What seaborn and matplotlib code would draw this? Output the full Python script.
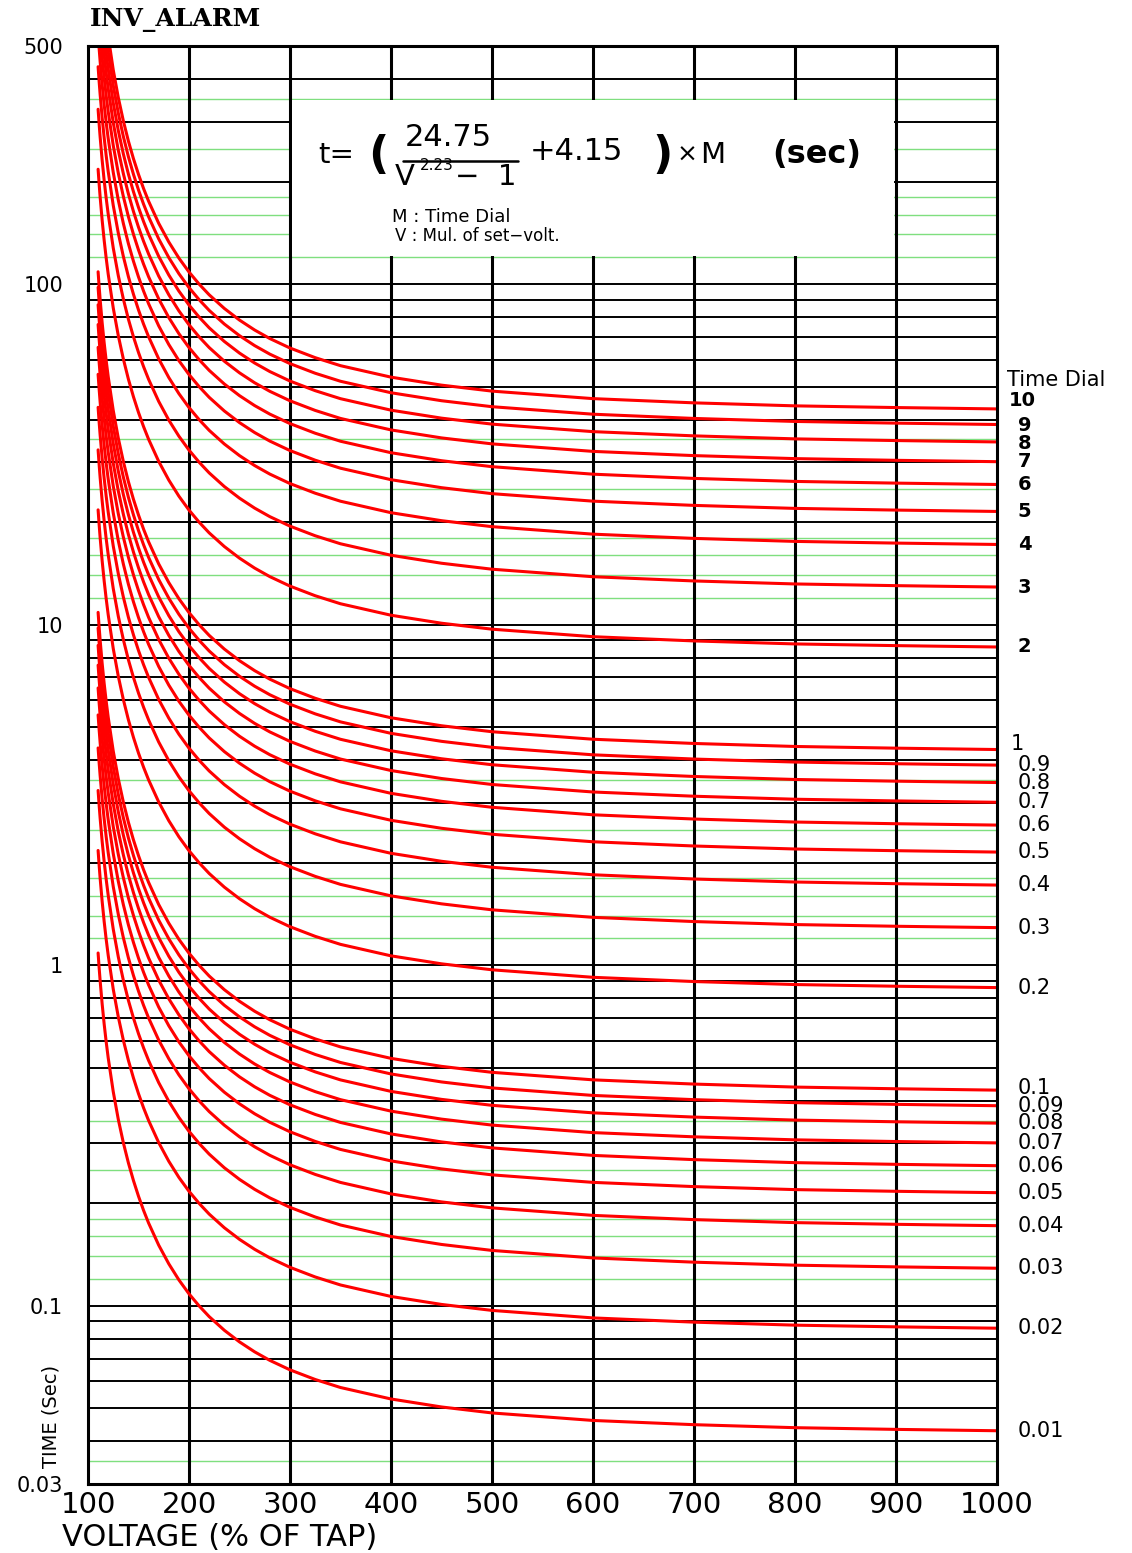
import matplotlib
matplotlib.use("Agg")
import matplotlib.pyplot as plt
from matplotlib.lines import Line2D
from matplotlib.patches import Rectangle
from matplotlib.ticker import NullLocator
import pandas as pd
import seaborn as sns

voltage_pct = [110, 111, 112, 114, 116, 118, 120, 125, 130, 135, 140, 145,
               150, 155, 160, 170, 180, 190, 200, 210, 220, 235, 250, 265,
               280, 300, 325, 350, 400, 450, 500, 600, 700, 800, 900, 1000]
base_time = [108.66, 98.60, 90.23, 77.08, 67.23, 59.59, 53.49, 42.54, 35.28,
             30.13, 26.29, 23.34, 20.99, 19.08, 17.51, 15.08, 13.29, 11.92,
             10.85, 10.00, 9.30, 8.48, 7.84, 7.33, 6.92, 6.49, 6.08, 5.76,
             5.33, 5.05, 4.85, 4.61, 4.48, 4.39, 4.34, 4.30]

time_dials = [0.01, 0.02, 0.03, 0.04, 0.05, 0.06, 0.07, 0.08, 0.09, 0.1,
              0.2, 0.3, 0.4, 0.5, 0.6, 0.7, 0.8, 0.9, 1,
              2, 3, 4, 5, 6, 7, 8, 9, 10]
dial_labels = ["0.01", "0.02", "0.03", "0.04", "0.05", "0.06", "0.07", "0.08",
               "0.09", "0.1", "0.2", "0.3", "0.4", "0.5", "0.6", "0.7", "0.8",
               "0.9", "1", "2", "3", "4", "5", "6", "7", "8", "9", "10"]

xtick_vals = [100, 200, 300, 400, 500, 600, 700, 800, 900, 1000]
ytick_vals = [0.03, 0.1, 1, 10, 100, 500]
ytick_labels = ["0.03", "0.1", "1", "10", "100", "500"]

df = pd.DataFrame(
    [
        {"voltage": v, "time": t * m, "dial": m}
        for m in time_dials
        for v, t in zip(voltage_pct, base_time)
    ]
)

sns.set_style("white")
plt.rcParams["font.family"] = ["DejaVu Sans"]
plt.rcParams["text.color"] = "black"
plt.rcParams["xtick.color"] = "black"
plt.rcParams["ytick.color"] = "black"

W, H = 1132, 1553


def fx(px):
    return px / W


def fy(py):
    return 1 - py / H


fig = plt.figure(figsize=(W / 100, H / 100), dpi=100)
ax = fig.add_axes([fx(88), fy(1484), 909 / W, 1438 / H])

# chart-paper grid
green = "#7fdf7f"
for dec in [0.01, 0.1, 1, 10, 100]:
    for k in range(1, 10):
        v = k * dec
        if 0.03 < v < 500:
            ax.axhline(v, color="black", lw=1.4, zorder=1)
    for k in [1.2, 1.4, 1.6, 1.8, 2.5, 3.5]:
        v = k * dec
        if 0.03 < v < 500:
            ax.axhline(v, color=green, lw=1.0, zorder=1)
for x in range(200, 1000, 100):
    ax.axvline(x, color="black", lw=2.2, zorder=1.2)

# blank panel behind the formula
ax.add_patch(Rectangle((302, 121.3), 596, 346 - 121.3, facecolor="white",
                       edgecolor="none", zorder=1.5))

sns.lineplot(data=df, x="voltage", y="time", units="dial", estimator=None,
             color="#ff0000", linewidth=2.2, sort=False, legend=False, ax=ax)

ax.set_yscale("log")
ax.set_xlim(100, 1000)
ax.set_ylim(0.03, 500)
ax.set_xticks(xtick_vals)
ax.set_yticks(ytick_vals, ytick_labels)
ax.yaxis.set_minor_locator(NullLocator())
ax.tick_params(axis="x", length=0, pad=5, labelsize=21)
ax.tick_params(axis="y", length=0, pad=18, labelsize=15)
ax.set_xlabel("")
ax.set_ylabel("")
for s in ax.spines.values():
    s.set_color("black")
    s.set_linewidth(2.2)

# time dial labels at the right end of each curve
offsets = {"10": (8.5, 5.8), "9": (15, -0.6), "8": (15, -0.8),
           "1": (10, 4.3), "0.1": (15, 1.4)}
for m, lab in zip(time_dials, dial_labels):
    dx, dy = offsets.get(lab, (15, 0))
    bold = m >= 2
    ax.annotate(lab, xy=(1000, m * base_time[-1]), xytext=(dx, dy),
                textcoords="offset points", va="center", ha="left",
                fontsize=14 if bold else 15,
                fontweight="bold" if bold else "normal",
                annotation_clip=False)
ax.annotate("Time Dial", xy=(1000, 52.2), xytext=(7, 0),
            textcoords="offset points", va="center", ha="left", fontsize=15,
            annotation_clip=False)

# formula
fig.text(fx(318), fy(155), "t=", fontsize=21, va="center")
fig.text(fx(368), fy(155), "(", fontsize=32, fontweight="bold", va="center")
fig.text(fx(405), fy(137), "24.75", fontsize=22, va="center")
fig.add_artist(Line2D([fx(403), fx(518)], [fy(161), fy(161)], color="black",
                      lw=1.8))
fig.text(fx(395), fy(177), "V", fontsize=21, va="center")
fig.text(fx(420), fy(165), "2.23", fontsize=11, va="center")
fig.text(fx(455), fy(177), "\u2212  1", fontsize=21, va="center")
fig.text(fx(530), fy(152), "+4.15", fontsize=22, va="center")
fig.text(fx(652), fy(155), ")", fontsize=32, fontweight="bold", va="center")
fig.text(fx(677), fy(155), "\u00d7", fontsize=18, va="center")
fig.text(fx(700), fy(155), "M", fontsize=21, va="center")
fig.text(fx(772), fy(155), "(sec)", fontsize=23, fontweight="bold",
         va="center")
fig.text(fx(392), fy(217), "M : Time Dial", fontsize=13, va="center")
fig.text(fx(395), fy(236), "V : Mul. of set\u2212volt.", fontsize=12,
         va="center")

fig.text(fx(90), fy(20), "INV_ALARM", family="DejaVu Serif",
         fontweight="bold", fontsize=18, va="center")
fig.text(fx(62), fy(1537), "VOLTAGE (% OF TAP)", fontsize=22, va="center")
fig.text(fx(51), fy(1416), "TIME (Sec)", fontsize=14, rotation=90,
         va="center", ha="center")

fig.savefig("out.png", dpi=100, facecolor="white")
